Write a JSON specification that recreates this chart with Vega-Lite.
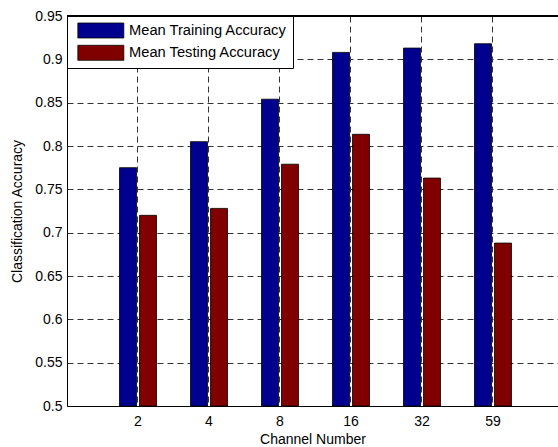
{
  "$schema": "https://vega.github.io/schema/vega-lite/v6.json",
  "width": 491,
  "height": 390,
  "autosize": {"type": "none"},
  "padding": {"left": 67, "top": 16, "right": 0, "bottom": 41},
  "background": "white",
  "config": {
    "view": {"stroke": null},
    "font": "Liberation Sans",
    "axis": {
      "labelFont": "Liberation Sans",
      "titleFont": "Liberation Sans",
      "labelFontSize": 14,
      "titleFontSize": 14,
      "titleFontWeight": "normal",
      "labelColor": "#000",
      "titleColor": "#000",
      "domainColor": "#000",
      "domainWidth": 1,
      "ticks": false,
      "grid": true,
      "gridDash": [6, 4],
      "gridColor": "#333",
      "gridOpacity": 1,
      "gridWidth": 1
    },
    "legend": {
      "labelFont": "Liberation Sans",
      "labelFontSize": 14.7,
      "labelColor": "#000"
    }
  },
  "data": {
    "values": [
      {"channel": "2", "series": "Mean Training Accuracy", "accuracy": 0.775},
      {"channel": "2", "series": "Mean Testing Accuracy", "accuracy": 0.720},
      {"channel": "4", "series": "Mean Training Accuracy", "accuracy": 0.805},
      {"channel": "4", "series": "Mean Testing Accuracy", "accuracy": 0.728},
      {"channel": "8", "series": "Mean Training Accuracy", "accuracy": 0.854},
      {"channel": "8", "series": "Mean Testing Accuracy", "accuracy": 0.779},
      {"channel": "16", "series": "Mean Training Accuracy", "accuracy": 0.908},
      {"channel": "16", "series": "Mean Testing Accuracy", "accuracy": 0.8135},
      {"channel": "32", "series": "Mean Training Accuracy", "accuracy": 0.913},
      {"channel": "32", "series": "Mean Testing Accuracy", "accuracy": 0.763},
      {"channel": "59", "series": "Mean Training Accuracy", "accuracy": 0.918},
      {"channel": "59", "series": "Mean Testing Accuracy", "accuracy": 0.688}
    ]
  },
  "layer": [
    {
      "mark": {"type": "bar", "stroke": "#000", "strokeWidth": 0.8},
      "encoding": {
        "x": {
          "field": "channel",
          "type": "ordinal",
          "sort": null,
          "scale": {"paddingInner": 0, "paddingOuter": 0.4577, "align": 0.546},
          "axis": {
            "title": "Channel Number",
            "labelAngle": 0,
            "bandPosition": 0.5,
            "labelPadding": 8,
            "titlePadding": 4
          }
        },
        "xOffset": {
          "field": "series",
          "type": "nominal",
          "sort": ["Mean Training Accuracy", "Mean Testing Accuracy"],
          "scale": {"paddingInner": 0.15, "paddingOuter": 0.85}
        },
        "y": {
          "field": "accuracy",
          "type": "quantitative",
          "scale": {"domain": [0.5, 0.95], "zero": false, "nice": false},
          "axis": {
            "title": "Classification Accuracy",
            "values": [0.5, 0.55, 0.6, 0.65, 0.7, 0.75, 0.8, 0.85, 0.9, 0.95],
            "format": "~g",
            "labelPadding": 5,
            "titlePadding": 10
          }
        },
        "y2": {"datum": 0.5},
        "color": {
          "field": "series",
          "type": "nominal",
          "scale": {
            "domain": ["Mean Training Accuracy", "Mean Testing Accuracy"],
            "range": ["#00008f", "#800000"]
          },
          "legend": {
            "title": null,
            "orient": "none",
            "legendX": 0,
            "legendY": 0,
            "symbolType": "M-1,-0.978L5,-0.978L5,0.978L-1,0.978Z",
            "symbolSize": 235,
            "symbolStrokeColor": "#000",
            "symbolStrokeWidth": 0.8,
            "symbolOpacity": 1,
            "strokeColor": "#000",
            "fillColor": "#fff",
            "padding": 6,
            "symbolOffset": 4,
            "labelOffset": 35,
            "rowPadding": 3.3,
            "cornerRadius": 0
          }
        }
      }
    },
    {
      "mark": {"type": "rule", "color": "#000", "strokeWidth": 1},
      "encoding": {"y": {"datum": 0.95}}
    }
  ]
}
